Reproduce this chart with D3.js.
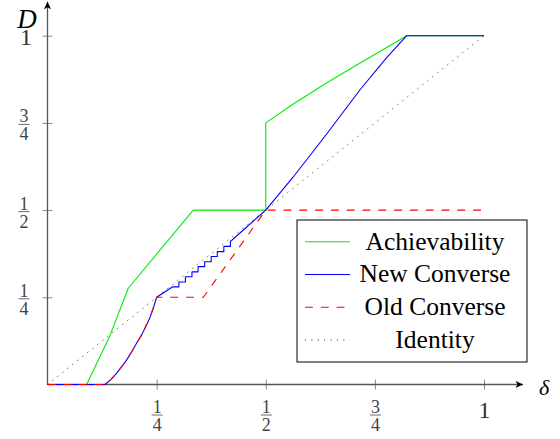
<!DOCTYPE html>
<html>
<head>
<meta charset="utf-8">
<script src="https://cdn.jsdelivr.net/npm/d3@7"></script>
<style>
  body { margin: 0; background: #fff; }
  svg { display: block; }
</style>
</head>
<body>
<svg id="drawing_region"></svg>
<script>
// data (delta on x, D on y)
const achX = [0, 0.0897, 0.143, 0.185, 0.334, 0.5, 0.5, 0.563, 0.640, 0.716, 0.777, 0.823, 1];
const achY = [0, 0, 0.14, 0.276, 0.5, 0.5, 0.75, 0.804, 0.865, 0.922, 0.966, 1, 1];

const newX = [0, 0.1316, 0.145, 0.158, 0.170, 0.181, 0.193, 0.204, 0.216, 0.227, 0.235, 0.242, 0.25, 0.287,
  0.301, 0.301, 0.316, 0.316, 0.331, 0.331, 0.345, 0.345, 0.360, 0.360,
  0.375, 0.375, 0.389, 0.389, 0.404, 0.404, 0.419, 0.419,
  0.5, 0.563, 0.640, 0.716, 0.777, 0.823, 1];
const newY = [0, 0, 0.014, 0.032, 0.051, 0.070, 0.094, 0.118, 0.143, 0.171, 0.193, 0.218, 0.25, 0.280,
  0.280, 0.294, 0.294, 0.309, 0.309, 0.323, 0.323, 0.338, 0.338, 0.352,
  0.352, 0.367, 0.367, 0.381, 0.381, 0.396, 0.396, 0.410,
  0.5, 0.595, 0.719, 0.845, 0.937, 1, 1];

const oldX = [0, 0.1316, 0.145, 0.158, 0.170, 0.181, 0.193, 0.204, 0.216, 0.227, 0.235, 0.242, 0.25, 0.357, 0.5, 1];
const oldY = [0, 0, 0.014, 0.032, 0.051, 0.070, 0.094, 0.118, 0.143, 0.171, 0.193, 0.218, 0.25, 0.25, 0.5, 0.5];

const idX = [0, 1];
const idY = [0, 1];

const tickValues = [0.25, 0.5, 0.75, 1];
const tickLabels = ['1/4', '1/2', '3/4', '1'];

const seriesNames = ['Achievability', 'New Converse', 'Old Converse', 'Identity'];

const zip = (xs, ys) => xs.map((x, i) => ({x: x, y: ys[i]}));

var config = {
  parent: '#drawing_region',
  width: 560,
  height: 439,
  margin: {top: 35.7, right: 76, bottom: 54.5, left: 47.5}
};

const styles = [
  {color: '#00ee00', dash: null, width: 1.1},
  {color: '#0000ff', dash: null, width: 1.1},
  {color: '#ff0000', dash: '7.9,7.9', width: 1.1},
  {color: '#000000', dash: '1,5.4', width: 0.9}
];

const series = [zip(achX, achY), zip(newX, newY), zip(oldX, oldY), zip(idX, idY)];

const svg = d3.select(config.parent)
  .attr('width', config.width)
  .attr('height', config.height);

const inner_width = config.width - config.margin.left - config.margin.right;
const inner_height = config.height - config.margin.top - config.margin.bottom;

const chart = svg.append('g')
  .attr('transform', `translate(${config.margin.left}, ${config.margin.top})`);

const xscale = d3.scaleLinear().domain([0, 1]).range([0, inner_width]);
const yscale = d3.scaleLinear().domain([0, 1]).range([inner_height, 0]);

// arrow head
svg.append('defs').append('marker')
  .attr('id', 'arrow')
  .attr('viewBox', '-8 -4 9 8')
  .attr('refX', 0).attr('refY', 0)
  .attr('markerWidth', 9).attr('markerHeight', 8)
  .attr('markerUnits', 'userSpaceOnUse')
  .attr('orient', 'auto')
  .append('path')
  .attr('d', 'M0,0 L-7.5,-3.6 L-5.5,0 L-7.5,3.6 Z')
  .attr('fill', '#000');

const axisColor = '#555';
const labelFont = '"Liberation Serif", "Times New Roman", serif';

// x axis
const xaxis = d3.axisBottom(xscale).tickValues(tickValues).tickSize(0).tickFormat('');
const xg = chart.append('g')
  .attr('transform', `translate(0, ${inner_height})`)
  .call(xaxis);
xg.select('.domain').remove();
xg.selectAll('.tick line').attr('y1', -5).attr('y2', 5).attr('stroke', '#888').attr('stroke-width', 1);
xg.append('line')
  .attr('x1', 0).attr('x2', 475.5).attr('y1', 0).attr('y2', 0)
  .attr('stroke', axisColor).attr('stroke-width', 1.3)
  .attr('marker-end', 'url(#arrow)');

// y axis
const yaxis = d3.axisLeft(yscale).tickValues(tickValues).tickSize(0).tickFormat('');
const yg = chart.append('g').call(yaxis);
yg.select('.domain').remove();
yg.selectAll('.tick line').attr('x1', -5).attr('x2', 5).attr('stroke', '#888').attr('stroke-width', 1);
yg.append('line')
  .attr('x1', 0).attr('x2', 0).attr('y1', inner_height).attr('y2', -34)
  .attr('stroke', axisColor).attr('stroke-width', 1.3)
  .attr('marker-end', 'url(#arrow)');

// fraction tick labels
function drawLabel(g, label, cx, by) {
  const parts = label.split('/');
  if (parts.length === 1) {
    g.append('text').attr('x', cx).attr('y', by + 2.5)
      .attr('text-anchor', 'middle')
      .attr('font-family', labelFont).attr('font-size', 24)
      .attr('fill', '#333').text(parts[0]);
    return;
  }
  g.append('text').attr('x', cx).attr('y', by - 2)
    .attr('text-anchor', 'middle')
    .attr('font-family', labelFont).attr('font-size', 18)
    .attr('fill', '#444').text(parts[0]);
  g.append('line').attr('x1', cx - 5.5).attr('x2', cx + 5.5)
    .attr('y1', by).attr('y2', by)
    .attr('stroke', '#444').attr('stroke-width', 0.8);
  g.append('text').attr('x', cx).attr('y', by + 16)
    .attr('text-anchor', 'middle')
    .attr('font-family', labelFont).attr('font-size', 18)
    .attr('fill', '#444').text(parts[1]);
}

xg.selectAll('.tick').each(function(d, i) {
  drawLabel(d3.select(this), tickLabels[i], 0, 30.5);
});
yg.selectAll('.tick').each(function(d, i) {
  if (tickLabels[i] === '1') drawLabel(d3.select(this), tickLabels[i], -21.5, 5.8);
  else drawLabel(d3.select(this), tickLabels[i], -23.5, 1);
});

// axis names
svg.append('text').attr('x', 27).attr('y', 28)
  .attr('text-anchor', 'middle')
  .attr('font-family', labelFont).attr('font-style', 'italic').attr('font-size', 27)
  .text('D');
svg.append('text').attr('x', 544).attr('y', 395)
  .attr('text-anchor', 'middle')
  .attr('font-family', labelFont).attr('font-style', 'italic').attr('font-size', 22)
  .text('δ');

// curves
const line = d3.line().x(d => xscale(d.x)).y(d => yscale(d.y));
chart.selectAll('path.curve').data(series)
  .enter()
  .append('path')
  .attr('class', 'curve')
  .attr('d', d => line(d))
  .attr('fill', 'none')
  .attr('stroke', (d, i) => styles[i].color)
  .attr('stroke-width', (d, i) => styles[i].width)
  .attr('stroke-dasharray', (d, i) => styles[i].dash)
  .attr('stroke-linejoin', 'round');

// legend
const legend = svg.append('g').attr('transform', 'translate(297, 220)');
legend.append('rect')
  .attr('width', 230).attr('height', 142)
  .attr('fill', '#fff').attr('stroke', '#000').attr('stroke-width', 1);
const rows = legend.selectAll('g.row').data(seriesNames)
  .enter().append('g')
  .attr('class', 'row')
  .attr('transform', (d, i) => `translate(0, ${21.7 + i * 32.8})`);
rows.append('line')
  .attr('x1', 8).attr('x2', 53).attr('y1', 0).attr('y2', 0)
  .attr('stroke', (d, i) => styles[i].color)
  .attr('stroke-width', (d, i) => styles[i].width)
  .attr('stroke-dasharray', (d, i) => styles[i].dash);
rows.append('text')
  .attr('x', 138).attr('y', 7.8)
  .attr('text-anchor', 'middle')
  .attr('font-family', labelFont).attr('font-size', 25.5)
  .attr('fill', '#000')
  .text(d => d);
</script>
</body>
</html>
